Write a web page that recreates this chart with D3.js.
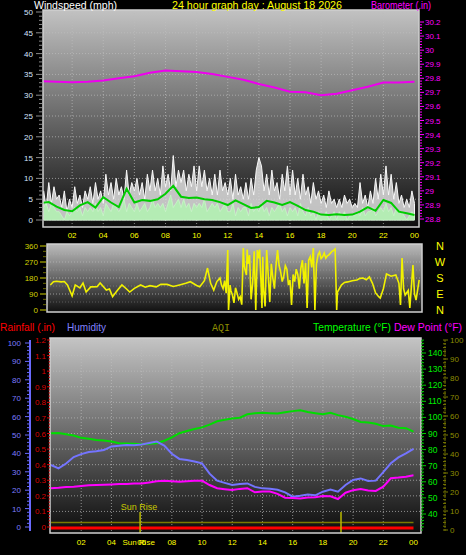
<!DOCTYPE html>
<html><head><meta charset="utf-8">
<script src="https://cdn.jsdelivr.net/npm/d3@7"></script>
<style>body{margin:0;background:#000;} svg{display:block;font-family:"Liberation Sans",Arial,sans-serif;}</style>
</head><body><svg id="c" width="466" height="555"></svg>
<script>
// ---------------- DATA ----------------
const title = "24 hour graph day : August 18 2026";
const xTickLabels = ["02","04","06","08","10","12","14","16","18","20","22","00"];
const xTickHours = [2,4,6,8,10,12,14,16,18,20,22,24];
const dirLetters = ["N","W","S","E","N"];
const dirLetterValues = [360,270,180,90,0];

// Barometer (inHg), hourly 00..24
const barometer = [29.780,29.775,29.772,29.775,29.785,29.800,29.815,29.840,29.855,29.850,29.845,29.830,29.810,29.790,29.760,29.735,29.705,29.700,29.680,29.690,29.715,29.740,29.770,29.770,29.775];

// Wind gust (mph), every 10 min
const windGust = [
7,3,9,4,8,5, 6,3,7,2,5,3, 8,4,6,3,7,5, 8,4,9,5,7,4,
11,6,9,5,10,6, 8,5,12,6,9,7, 10,6,9,5,11,7, 12,7,10,6,13,8,
11,7,15.5,8,12,9, 12,7,11,8,13,7, 13,8,12,7,10,6, 11,6,12,7,9,6,
10,5,11,6,8,5, 9,5,10,6,12,15, 13,7,11,6,12,7, 9,5,11,7,13,6,
12,6,10,5,11,6, 8,4,9,5,7,4, 6,3,7,4,5,3, 5,3,6,4,5,3,
4,3,9,4,6,3, 7,4,10,5,11,6, 13,6,11,5,9,4, 6,3,5,3,7,4];
// Wind speed (mph), every 10 min
const windSpeed = [
3,4,2,4,3,2, 2,1,0,2,1,2, 3,2,3,1,3,2, 3,2,4,2,3,1,
4,3,2,4,3,2, 3,5,2,4,3,2, 4,2,3,4,2,3, 5,3,4,3,4,2,
4,6,3,4,5,3, 5,3,4,2,4,3, 4,3,5,2,3,4, 3,4,2,3,4,2,
2,4,1,3,2,3, 3,1,4,2,3,2, 4,2,3,1,3,2, 3,4,2,3,1,3,
2,3,1,4,2,1, 3,1,2,0,2,1, 1,2,0,1,2,0, 2,1,2,0,1,1,
1,2,1,3,1,2, 2,3,1,2,3,2, 4,2,3,1,3,2, 2,1,0,1,2,1];
// Average wind speed (mph), every 30 min 00..24
const windAvg = [4.1,4.3,3.2,2.4,2.1,3.5,4.3,3.0,5.5,4.2,3.1,7.5,4.2,4.8,4.6,5.0,6.3,8.2,5.6,5.3,5.4,5.0,4.8,4.3,3.6,4.7,3.8,2.9,3.1,4.6,4.2,3.6,4.3,3.4,2.4,2.0,1.3,1.2,1.4,1.2,1.3,2.0,3.1,2.2,4.8,4.1,2.0,1.6,1.2];

// Wind direction readings: [hour, degrees]
const windDirReadings = [
[0.6,141],[0.8,159],[1.0,162],[1.3,158],[1.5,160],[1.7,141],[2.0,80],[2.2,141],[2.5,124],[2.7,152],
[2.9,101],[3.2,130],[3.6,131],[3.8,152],[4.2,112],[4.4,118],[4.6,75],[4.9,110],[5.2,141],[5.5,118],
[5.7,101],[6.0,122],[6.4,141],[6.7,128],[7.0,137],[7.4,130],[7.7,145],[8.1,144],[8.5,132],[8.9,141],
[9.3,150],[9.6,159],[10.0,138],[10.2,131],[10.5,165],[10.7,236],[10.9,150],[11.1,112],[11.3,160],
[11.5,180],[11.6,140],[11.7,120],[11.8,165],[11.9,95],[12.0,337],[12.05,0],[12.15,140],[12.2,110],[12.3,84],
[12.4,40],[12.5,125],[12.6,95],[12.7,60],[12.8,75],[12.9,30],[13.0,349],[13.05,260],[13.1,230],[13.2,197],
[13.25,340],[13.3,260],[13.4,309],[13.5,60],[13.6,150],[13.7,330],[13.8,0],[13.9,337],[14.0,290],[14.05,340],
[14.1,236],[14.2,11],[14.25,300],[14.3,120],[14.4,20],[14.5,337],[14.6,200],[14.7,45],[14.8,260],[14.9,180],
[15.0,120],[15.1,250],[15.2,337],[15.3,250],[15.4,214],[15.5,160],[15.6,190],[15.7,250],[15.8,230],[15.9,140],
[16.0,169],[16.1,28],[16.2,200],[16.3,160],[16.4,230],[16.5,200],[16.6,120],[16.7,236],[16.8,280],[16.9,150],
[17.0,264],[17.1,11],[17.2,280],[17.3,300],[17.4,240],[17.5,349],[17.6,0],[17.7,260],[17.8,310],[17.9,326],
[18.0,290],[18.1,300],[18.2,320],[18.3,292],[18.4,305],[18.5,310],[18.6,320],[18.7,330],[18.8,335],[18.9,343],
[19.0,0],[19.05,101],[19.3,140],[19.5,155],[19.7,158],[20.0,165],[20.3,169],[20.5,178],[20.7,180],[20.9,170],
[21.1,186],[21.3,150],[21.5,96],[21.7,75],[21.8,67],[22.0,120],[22.2,203],[22.5,190],[22.8,197],[23.0,150],
[23.1,28],[23.2,292],[23.3,120],[23.4,84],[23.6,110],[23.7,11],[23.9,253],[24.0,90],[24.1,56],[24.3,169]];

// Bottom panel, every 30 min 00..24
const temperature = [90.1,90.3,89.6,88.8,87.3,86.8,86.0,85.6,85.0,84.0,83.8,83.6,83.4,83.6,83.9,85.5,87.6,90.2,91.6,92.8,93.8,95.5,97.6,98.6,99.3,99.8,101.9,102.6,102.9,102.6,102.4,103.2,103.9,104.5,103.4,102.6,101.9,102.8,101.4,100.4,99.0,97.2,96.8,96.0,94.6,95.0,93.6,93.3,91.2];
const humidity = [33.7,31.9,34.5,38.0,39.6,40.8,41.2,41.8,43.8,44.2,44.6,44.4,44.8,45.6,46.4,44.2,39.8,37.0,36.4,35.6,34.6,29.0,25.2,24.0,22.8,23.4,23.7,21.8,21.0,20.8,20.2,18.8,16.5,17.0,17.6,17.2,19.2,20.4,19.2,22.8,25.6,26.4,25.0,25.2,29.8,34.6,37.8,40.0,42.4];
const dewPoint = [56.0,56.3,56.8,57.0,57.4,57.8,58.0,58.2,58.4,58.6,58.6,58.9,59.0,59.6,60.3,60.7,60.4,60.0,60.3,60.6,60.7,58.0,56.0,55.4,54.9,55.6,56.0,53.5,54.0,53.9,52.5,50.1,49.9,49.7,50.2,50.4,51.2,51.0,49.3,53.2,54.8,55.5,54.6,54.3,57.0,62.2,62.6,63.2,64.0];
// hourly 00..24
const rainfall = [0,0,0,0,0,0,0,0,0,0,0,0,0,0,0,0,0,0,0,0,0,0,0,0,0];
const aqi = [4,4,4,4,4,4,4,4,4,4,4,4,4,4,4,4,4,4,4,4,4,4,4,4,4];
const sunRise = 5.9, sunSet = 19.2;

// ---------------- DRAW ----------------
const svg = d3.select("#c");
const defs = svg.append("defs");
function grad(id, c1, c2){
  const g = defs.append("linearGradient").attr("id",id).attr("x1",0).attr("x2",0).attr("y1",0).attr("y2",1);
  g.append("stop").attr("offset","0%").attr("stop-color",c1);
  g.append("stop").attr("offset","100%").attr("stop-color",c2);
}
grad("g1","#c2c2c2","#0e0e0e");
grad("g2","#bcbcbc","#101010");
grad("g3","#c4c4c4","#0c0c0c");
function clip(id,x,y,w,h){ defs.append("clipPath").attr("id",id).append("rect").attr("x",x).attr("y",y).attr("width",w).attr("height",h); }

function txt(x,y,s,color,size,anchor,len){
  const t = svg.append("text").attr("x",x).attr("y",y).text(s).attr("fill",color)
    .attr("font-size",size).attr("text-anchor",anchor||"start");
  if(len) t.attr("textLength",len).attr("lengthAdjust","spacingAndGlyphs");
  return t;
}

// ===== TOP PANEL =====
const P1 = {x0:43,x1:419,y0:10,y1:227};
const xTop = d3.scaleLinear().domain([0,24]).range([41,414.5]);
const yWind = d3.scaleLinear().domain([0,50]).range([220,12]);
const yBaro = d3.scaleLinear().domain([28.8,30.2]).range([219,22]);
clip("cp1",P1.x0,P1.y0,P1.x1-P1.x0,P1.y1-P1.y0);
svg.append("rect").attr("x",P1.x0).attr("y",P1.y0).attr("width",P1.x1-P1.x0).attr("height",P1.y1-P1.y0).attr("fill","url(#g1)");
const g1 = svg.append("g").attr("clip-path","url(#cp1)");
g1.selectAll(".hg").data(d3.range(5,50,5)).join("line")
  .attr("x1",P1.x0).attr("x2",P1.x1).attr("y1",d=>yWind(d)).attr("y2",d=>yWind(d))
  .attr("stroke","#bdbdbd").attr("stroke-dasharray","1,2").attr("stroke-opacity",0.7);
g1.selectAll(".vg").data(xTickHours.slice(0,11)).join("line")
  .attr("x1",d=>xTop(d)).attr("x2",d=>xTop(d)).attr("y1",P1.y0).attr("y2",P1.y1)
  .attr("stroke","#bdbdbd").attr("stroke-dasharray","1,2").attr("stroke-opacity",0.7);
const t10 = (d,i)=>(i+1)/6;
g1.append("path").datum(windGust)
  .attr("d", d3.area().x((d,i)=>xTop(t10(d,i))).y0(yWind(0)).y1(d=>yWind(d)))
  .attr("fill","#dadada").attr("fill-opacity",0.88).attr("stroke","#f8f8f8").attr("stroke-width",1);
g1.append("path").datum(windSpeed)
  .attr("d", d3.area().x((d,i)=>xTop(t10(d,i))).y0(yWind(0)).y1(d=>yWind(d)))
  .attr("fill","#b4ecb4").attr("stroke","#c8f8c8").attr("stroke-width",0.8);
g1.append("path").datum(windAvg)
  .attr("d", d3.line().x((d,i)=>xTop(i*0.5)).y(d=>yWind(d)))
  .attr("fill","none").attr("stroke","#00cc00").attr("stroke-width",2);
g1.append("path").datum(barometer)
  .attr("d", d3.line().x((d,i)=>xTop(i)).y(d=>yBaro(d)))
  .attr("fill","none").attr("stroke","#ee00ee").attr("stroke-width",2);
svg.append("rect").attr("x",P1.x0).attr("y",P1.y0).attr("width",P1.x1-P1.x0).attr("height",P1.y1-P1.y0)
  .attr("fill","none").attr("stroke","#cfcfcf").attr("stroke-width",1.5);
d3.range(0,51,1).forEach(v=>{
  svg.append("line").attr("x1", v%5===0?36:39).attr("x2",42).attr("y1",yWind(v)).attr("y2",yWind(v))
    .attr("stroke","#8a8a8a").attr("stroke-width",1);
});
d3.range(0,51,5).forEach(v=>txt(33,yWind(v)+3,String(v),"#d6e4ff",8,"end"));
d3.range(0,71,1).forEach(i=>{
  const v = 28.8 + i*0.02;
  svg.append("line").attr("x1",420).attr("x2", i%5===0?424:422).attr("y1",yBaro(v)).attr("y2",yBaro(v))
    .attr("stroke","#ff00ff").attr("stroke-width",1);
});
d3.range(0,15,1).forEach(i=>{
  const v = 28.8 + i*0.1;
  txt(425,yBaro(v)+3,d3.format(".3~f")(v),"#ff00ff",8,"start");
});
txt(34,9,"Windspeed (mph)","#ffffff",11,"start",83);
txt(257,9,title,"#ffff00",11,"middle",170);
txt(371,9,"Barometer (.in)","#ff00ff",10.5,"start",60);
xTickHours.forEach((h,i)=>txt(xTop(h),238,xTickLabels[i],"#ffff00",8,"middle"));

// ===== WIND DIRECTION PANEL =====
const P2 = {x0:47,x1:422,y0:244,y1:312};
const yDir = d3.scaleLinear().domain([0,360]).range([310,246]);
clip("cp2",P2.x0,P2.y0,P2.x1-P2.x0,P2.y1-P2.y0);
svg.append("rect").attr("x",P2.x0).attr("y",P2.y0).attr("width",P2.x1-P2.x0).attr("height",P2.y1-P2.y0).attr("fill","url(#g2)");
const g2 = svg.append("g").attr("clip-path","url(#cp2)");
g2.selectAll(".hg").data([45,90,135,180,225,270,315]).join("line")
  .attr("x1",P2.x0).attr("x2",P2.x1).attr("y1",d=>yDir(d)).attr("y2",d=>yDir(d))
  .attr("stroke","#b8b8b8").attr("stroke-dasharray","1,2").attr("stroke-opacity",d=>d%90===0?0.75:0.35);
g2.append("path").datum(windDirReadings)
  .attr("d", d3.line().x(d=>xTop(d[0])).y(d=>yDir(d[1])))
  .attr("fill","none").attr("stroke","#f2f200").attr("stroke-width",1.6);
svg.append("rect").attr("x",P2.x0).attr("y",P2.y0).attr("width",P2.x1-P2.x0).attr("height",P2.y1-P2.y0)
  .attr("fill","none").attr("stroke","#cfcfcf").attr("stroke-width",1.5);
[0,90,180,270,360].forEach(v=>{
  svg.append("line").attr("x1",40).attr("x2",46).attr("y1",yDir(v)).attr("y2",yDir(v)).attr("stroke","#8a8a00").attr("stroke-width",1.5);
  txt(38,yDir(v)+3,String(v),"#d2d200",8,"end");
});
d3.range(0,361,30).forEach(v=>{
  svg.append("line").attr("x1",43).attr("x2",46).attr("y1",yDir(v)).attr("y2",yDir(v)).attr("stroke","#6a6a00");
});
dirLetters.forEach((s,i)=>txt(440,yDir(dirLetterValues[i])+4,s,"#ffff00",11,"middle"));

// ===== BOTTOM PANEL =====
const P3 = {x0:50,x1:421,y0:338,y1:533};
const xBot = d3.scaleLinear().domain([0,24]).range([51,413.5]);
const yHum = d3.scaleLinear().domain([0,100]).range([527,343]);
const yRain = d3.scaleLinear().domain([0,1.2]).range([527,340]);
const yTemp = d3.scaleLinear().domain([40,140]).range([514,353]);
const yAqi = d3.scaleLinear().domain([0,100]).range([530,340]);
clip("cp3",P3.x0,P3.y0,P3.x1-P3.x0,P3.y1-P3.y0);
svg.append("rect").attr("x",P3.x0).attr("y",P3.y0).attr("width",P3.x1-P3.x0).attr("height",P3.y1-P3.y0).attr("fill","url(#g3)");
const g3 = svg.append("g").attr("clip-path","url(#cp3)");
g3.selectAll(".hg").data(d3.range(1,12).map(d=>d/10)).join("line")
  .attr("x1",P3.x0).attr("x2",P3.x1).attr("y1",d=>yRain(d)).attr("y2",d=>yRain(d))
  .attr("stroke","#bdbdbd").attr("stroke-dasharray","1,2").attr("stroke-opacity",0.7);
g3.selectAll(".vg").data(xTickHours.slice(0,11)).join("line")
  .attr("x1",d=>xBot(d)).attr("x2",d=>xBot(d)).attr("y1",P3.y0).attr("y2",P3.y1)
  .attr("stroke","#bdbdbd").attr("stroke-dasharray","1,2").attr("stroke-opacity",0.7);
g3.append("path").datum(aqi).attr("d",d3.line().x((d,i)=>xBot(i)).y(d=>yAqi(d)))
  .attr("fill","none").attr("stroke","#7a7a00").attr("stroke-width",1.5);
g3.append("path").datum(rainfall).attr("d",d3.line().x((d,i)=>xBot(i)).y(d=>yRain(d)+1))
  .attr("fill","none").attr("stroke","#ff0000").attr("stroke-width",3);
[sunRise,sunSet].forEach(h=>{
  g3.append("line").attr("x1",xBot(h)).attr("x2",xBot(h)).attr("y1",512).attr("y2",P3.y1)
    .attr("stroke","#b8b800").attr("stroke-width",1.5);
});
g3.append("path").datum(temperature).attr("d",d3.line().x((d,i)=>xBot(i*0.5)).y(d=>yTemp(d)))
  .attr("fill","none").attr("stroke","#00dd00").attr("stroke-width",2);
g3.append("path").datum(humidity).attr("d",d3.line().x((d,i)=>xBot(i*0.5)).y(d=>yHum(d)))
  .attr("fill","none").attr("stroke","#7474ff").attr("stroke-width",2);
g3.append("path").datum(dewPoint).attr("d",d3.line().x((d,i)=>xBot(i*0.5)).y(d=>yTemp(d)))
  .attr("fill","none").attr("stroke","#ff00ff").attr("stroke-width",2);
g3.append("text").attr("x",xBot(sunRise)-1).attr("y",510).text("Sun Rise").attr("fill","#c8c800")
  .attr("font-size",9).attr("text-anchor","middle");
svg.append("rect").attr("x",P3.x0).attr("y",P3.y0).attr("width",P3.x1-P3.x0).attr("height",P3.y1-P3.y0)
  .attr("fill","none").attr("stroke","#cfcfcf").attr("stroke-width",1.5);
svg.append("line").attr("x1",30).attr("x2",30).attr("y1",340).attr("y2",531).attr("stroke","#6a6aff").attr("stroke-width",2);
d3.range(0,101,2).forEach(v=>{
  svg.append("line").attr("x1", v%10===0?25:27).attr("x2",30).attr("y1",yHum(v)).attr("y2",yHum(v)).attr("stroke","#6a6aff");
});
d3.range(0,101,10).forEach(v=>txt(21,yHum(v)+3,String(v),"#7c7cff",8,"end"));
d3.range(0,61,1).forEach(i=>{
  const v=i*0.02;
  svg.append("line").attr("x1", i%5===0?47:48.5).attr("x2",50).attr("y1",yRain(v)).attr("y2",yRain(v)).attr("stroke","#dd0000");
});
d3.range(0,13,1).forEach(i=>txt(46,yRain(i/10)+3,d3.format("~g")(i/10),"#dd0000",8,"end"));
svg.append("line").attr("x1",422).attr("x2",422).attr("y1",340).attr("y2",531).attr("stroke","#00aa00").attr("stroke-dasharray","2,1");
d3.range(32,149,2).forEach(v=>{
  svg.append("line").attr("x1",422).attr("x2", v%10===0?426:424).attr("y1",yTemp(v)).attr("y2",yTemp(v)).attr("stroke","#00cc00");
});
d3.range(40,141,10).forEach(v=>txt(428,yTemp(v)+3,String(v),"#00ee00",8.5,"start"));
svg.append("line").attr("x1",445).attr("x2",445).attr("y1",340).attr("y2",531).attr("stroke","#6a6a00").attr("stroke-dasharray","2,1");
d3.range(0,101,2).forEach(v=>{
  svg.append("line").attr("x1",443).attr("x2", v%10===0?448:446).attr("y1",yAqi(v)).attr("y2",yAqi(v)).attr("stroke","#7a7a00");
});
d3.range(0,101,10).forEach(v=>txt(450,yAqi(v)+3,String(v),"#8c8c00",8,"start"));
txt(0,331,"Rainfall (.in)","#ff0000",11,"start",55);
txt(67,331,"Humidity","#8080ff",11,"start",39);
txt(221,331,"AQI","#8c8c00",10,"middle").attr("font-family","Liberation Mono, monospace");
txt(313,331,"Temperature (°F)","#00ff00",11,"start",78);
txt(394,331,"Dew Point (°F)","#ff00ff",11,"start",68);
xTickHours.forEach((h,i)=>txt(xBot(h),545,xTickLabels[i],"#ffff00",8,"middle"));
txt(xBot(sunRise)-1.5,545,"Sun Rise","#ffff00",8,"middle");
</script></body></html>
